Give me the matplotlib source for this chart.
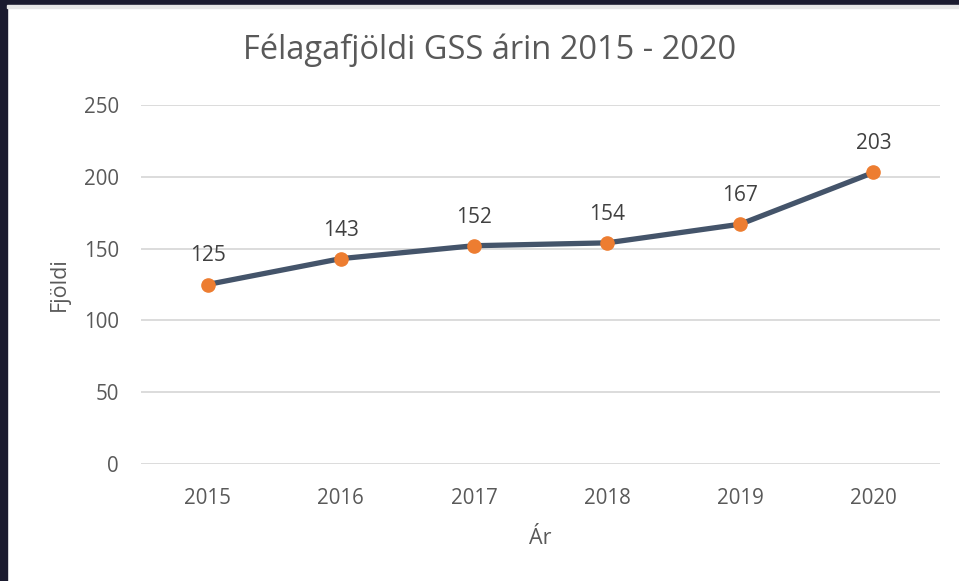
import matplotlib.pyplot as plt
from matplotlib.patches import Rectangle

# === Gögn ===
years = ["2015", "2016", "2017", "2018", "2019", "2020"]
members = [125, 143, 152, 154, 167, 203]
y_ticks = [0, 50, 100, 150, 200, 250]

plt.rcParams['font.family'] = ['Open Sans', 'DejaVu Sans']

fig = plt.figure(figsize=(9.59, 5.81), dpi=100)
fig.patch.set_facecolor('white')

# dökkur rammi efst og vinstra megin
fig.patches.append(Rectangle((0, 1 - 5 / 581), 1, 5 / 581, transform=fig.transFigure,
                             color='#1b1b2f', zorder=0))
fig.patches.append(Rectangle((0, 0), 7 / 959, 1, transform=fig.transFigure,
                             color='#1b1b2f', zorder=0))
fig.patches.append(Rectangle((7 / 959, 1 - 8 / 581), 1, 3 / 581, transform=fig.transFigure,
                             color='#e6e6e6', zorder=0))

ax = fig.add_axes([141 / 959, 1 - 464 / 581, 799 / 959, 359 / 581])
x = range(len(years))
ax.plot(x, members, color='#44546A', linewidth=3.8, solid_capstyle='round',
        marker='o', markersize=9.5, markerfacecolor='#ED7D31',
        markeredgecolor='#ED7D31', zorder=3)

for xi, v in zip(x, members):
    ax.annotate(str(v), (xi, v), xytext=(0, 13), textcoords='offset points',
                ha='center', va='bottom', fontsize=15, color='#404040')

ax.set_xlim(-0.5, len(years) - 0.5)
ax.set_ylim(0, 250)
ax.set_yticks(y_ticks)
ax.set_xticks(list(x))
ax.set_xticklabels(years)
ax.grid(axis='y', color='#d9d9d9', linewidth=1.3)
ax.set_axisbelow(True)
for s in ax.spines.values():
    s.set_visible(False)
ax.tick_params(length=0, labelsize=14.8, labelcolor='#595959')
ax.tick_params(axis='y', pad=16)
ax.tick_params(axis='x', pad=17)

ax.set_xlabel("Ár", fontsize=15.5, color='#595959', labelpad=14)
ax.set_ylabel("Fjöldi", fontsize=15.5, color='#595959', labelpad=10)
fig.text(490 / 959, 1 - 50 / 581, "Félagafjöldi GSS árin 2015 - 2020",
         ha='center', va='center', fontsize=23.5, color='#595959')

fig.savefig("out.png", dpi=100)
